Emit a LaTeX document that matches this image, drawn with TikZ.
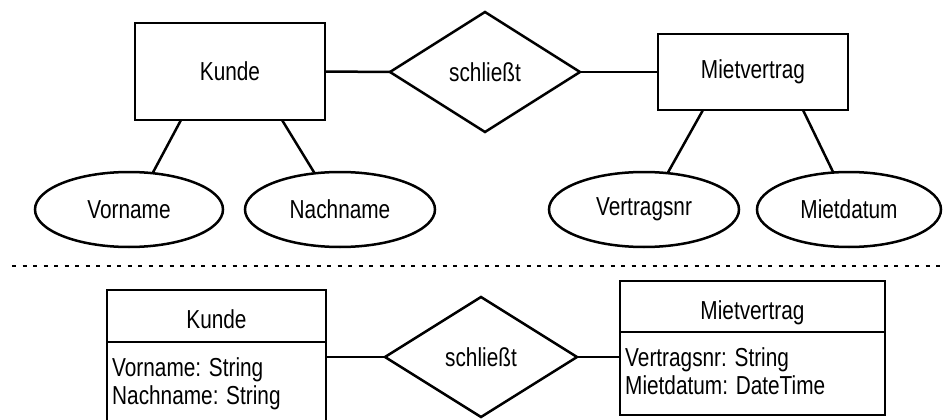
\documentclass[tikz,border=0pt]{standalone}
\usepackage{fontspec}
\setmainfont{Liberation Sans}[FakeStretch=0.8]
\usepackage{tikz}
\usetikzlibrary{shapes.geometric}
\tikzset{
	er/.style={draw, line width=2.5pt, inner sep=0pt, outer sep=0pt, font=\fontsize{26}{28}\selectfont},
	entity/.style={er, rectangle},
	classhead/.style={entity, text height=25pt, text depth=0pt},
	relation/.style={er, diamond, aspect=1.6},
	attribute/.style={er, ellipse},
	attrtext/.style={font=\fontsize{26}{28}\selectfont, align=left, inner xsep=5pt, inner ysep=15.5pt, anchor=north west},
	link/.style={line width=2.5pt}
}

\begin{document}
\begin{tikzpicture}[x=1pt, y=-1pt]
	\useasboundingbox (0,0) rectangle (943,420);

	\node[entity, minimum width=190pt, minimum height=97pt] (K) at (230,71.5) {Kunde};	% ER
	\node[relation, minimum width=190pt, minimum height=120pt] (S) at (485,72) {schließt};
	\node[entity, minimum width=190pt, minimum height=76pt] (M) at (753,72) {Mietvertrag};
	\node[attribute, minimum width=188pt, minimum height=75pt] (KV) at (129,209.5) {Vorname};
	\node[attribute, minimum width=190pt, minimum height=75pt] (KN) at (340,209.5) {Nachname};
	\node[attribute, minimum width=190pt, minimum height=75pt] (MV) at (644,209.5) {Vertragsnr};
	\node[attribute, minimum width=184pt, minimum height=75pt] (MD) at (849,209.5) {Mietdatum};

	\draw[link] (K) -- (S);
	\draw[link] (S) -- (M);
	\draw[link] ([xshift=-49pt]K.south) -- (KV.57);
	\draw[link] ([xshift=52pt]K.south) -- (KN.125);
	\draw[link] ([xshift=-50pt]M.south) -- (MV.57);
	\draw[link] ([xshift=50pt]M.south) -- (MD.113);

	\coordinate (L) at (12,266);	% Separator
	\coordinate (R) at (943,266);
	\draw[link, dash pattern=on 4pt off 6.5pt] (L) -- (R);

	\node[classhead, minimum width=219pt, minimum height=52pt] (KT) at (216.5,316) {Kunde};	% Classes
	\node[entity, minimum width=219pt, minimum height=100pt, anchor=north] (KA) at (KT.south) {};
	\node[attrtext] (KAt) at (KA.north west) {Vorname: String\\Nachname: String};
	\node[relation, minimum width=192pt, minimum height=120pt] (S2) at (481,357) {schließt};
	\node[classhead, minimum width=265pt, minimum height=51pt] (MT) at (752.5,306.5) {Mietvertrag};
	\node[entity, minimum width=265pt, minimum height=83pt, anchor=north] (MA) at (MT.south) {};
	\node[attrtext] (MAt) at (MA.north west) {Vertragsnr: String\\Mietdatum: DateTime};

	\draw[link] (S2.west -| KA.east) -- (S2.west);
	\draw[link] (S2.east) -- (S2.east -| MA.west);
\end{tikzpicture}
\end{document}
